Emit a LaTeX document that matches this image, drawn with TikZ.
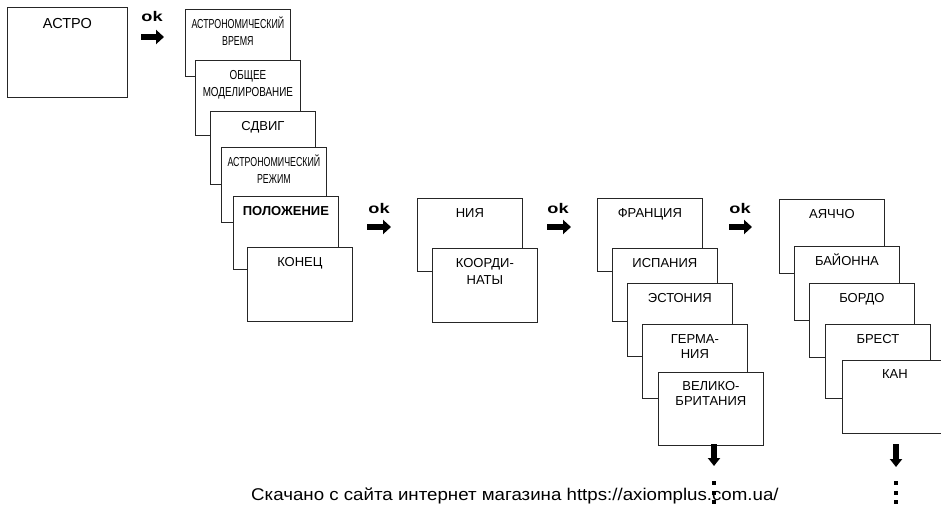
\documentclass[tikz,border=0pt]{standalone}
\usepackage{fontspec}
\setmainfont{Liberation Sans}
\newfontfamily\narrowfont[FakeStretch=0.68]{Liberation Sans}
\newfontfamily\midfont[FakeStretch=0.76]{Liberation Sans}
\newfontfamily\widefont[FakeStretch=1.3]{Liberation Sans}
\newfontfamily\notefont[FakeStretch=1.1]{Liberation Sans}
\usetikzlibrary{arrows.meta}
\begin{document}
\begin{tikzpicture}[x=1pt,y=-1pt,
  screen/.style={draw=black!85,line width=0.8pt,fill=white,anchor=north west,
    minimum width=105pt,inner sep=0pt,align=center,
    font=\fontsize{13}{16}\selectfont,text height=19pt,text depth=#1},
  screen/.default=55pt,
  small/.style={font=\narrowfont\fontsize{13}{17}\selectfont},
  oklabel/.style={font=\widefont\bfseries\fontsize{14}{15}\selectfont},
  okarrow/.style={line width=6.5pt,-{Triangle[length=8pt,width=14pt]}},
  downarrow/.style={line width=5.5pt,-{Triangle[length=8pt,width=12pt]}}]
\useasboundingbox (0,0) rectangle (941,505);
\clip (0,0) rectangle (941,505);
\node[screen=69pt,minimum width=120pt,text height=21pt,font=\fontsize{14.5}{17}\selectfont] (astro) at (7,7) {АСТРО};
\node[oklabel] (ok1) at (152,16) {ok};
\coordinate (ok1a) at (141,37);
\coordinate (ok1b) at (164,37);
\draw[okarrow] (ok1a) -- (ok1b);
\node[screen=31pt,small,text height=36pt] (time) at (185,9) {АСТРОНОМИЧЕСКИЙ\\ВРЕМЯ};
\node[screen=39pt,font=\midfont\fontsize{13}{17}\selectfont,text height=36pt] (model) at (195,60) {ОБЩЕЕ\\МОДЕЛИРОВАНИЕ};
\node[screen=54pt] (shift) at (210,111) {СДВИГ};
\node[screen=39pt,small,text height=36pt] (mode) at (221,147) {АСТРОНОМИЧЕСКИЙ\\РЕЖИМ};
\node[screen=54pt,font=\bfseries\fontsize{13}{16}\selectfont] (place) at (233,196) {ПОЛОЖЕНИЕ};
\node[screen] (stop) at (247,247) {КОНЕЦ};
\node[oklabel] (ok2) at (379,208) {ok};
\coordinate (ok2a) at (367,227);
\coordinate (ok2b) at (391,227);
\draw[okarrow] (ok2a) -- (ok2b);
\node[screen=54pt] (nia) at (417,198) {НИЯ};
\node[screen=38pt,font=\fontsize{13}{17}\selectfont,text height=36pt] (coord) at (432,248) {КООРДИ-\\НАТЫ};
\node[oklabel] (ok3) at (558,208) {ok};
\coordinate (ok3a) at (547,227);
\coordinate (ok3b) at (571,227);
\draw[okarrow] (ok3a) -- (ok3b);
\node[screen=54pt] (fr) at (597,198) {ФРАНЦИЯ};
\node[screen=54pt] (es) at (612,248) {ИСПАНИЯ};
\node[screen=54pt] (ee) at (627,283) {ЭСТОНИЯ};
\node[screen=40pt,text height=34pt,font=\fontsize{13}{15}\selectfont] (de) at (642,324) {ГЕРМА-\\НИЯ};
\node[screen=40pt,text height=33pt,font=\fontsize{13}{15}\selectfont] (gb) at (658,372) {ВЕЛИКО-\\БРИТАНИЯ};
\node[oklabel] (ok4) at (740,208) {ok};
\coordinate (ok4a) at (729,227);
\coordinate (ok4b) at (752,227);
\draw[okarrow] (ok4a) -- (ok4b);
\node[screen=55pt] (aj) at (779,199) {АЯЧЧО};
\node[screen=55pt] (bay) at (794,246) {БАЙОННА};
\node[screen=55pt] (bor) at (809,283) {БОРДО};
\node[screen=55pt] (bre) at (825,324) {БРЕСТ};
\node[screen=55pt,text height=18pt] (can) at (842,360) {КАН};
\coordinate (gbd) at (714,444);
\coordinate (gbe) at (714,466);
\draw[downarrow] (gbd) -- (gbe);
\coordinate (cand) at (896,444);
\coordinate (cane) at (896,467);
\draw[downarrow] (cand) -- (cane);
\node[anchor=base west,inner sep=0pt,font=\notefont\fontsize{17}{18}\selectfont] (src) at (251,500.5) {Скачано с сайта интернет магазина https://axiomplus.com.ua/};
\foreach \y in {481,490.5,500} {
  \fill (712,\y) rectangle ++(4,4);
  \fill (894,\y) rectangle ++(4,4);
}
\end{tikzpicture}
\end{document}
